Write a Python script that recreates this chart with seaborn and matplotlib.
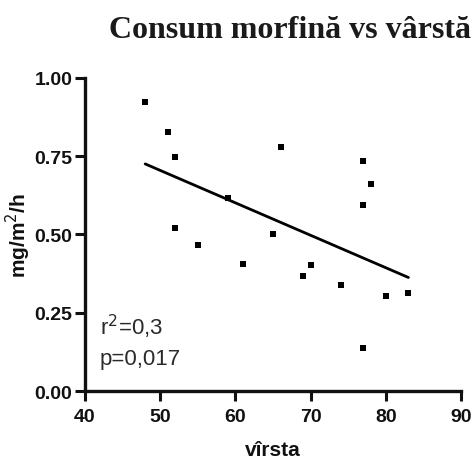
import matplotlib
matplotlib.use("Agg")
import matplotlib.pyplot as plt
import seaborn as sns
import pandas as pd
from matplotlib import font_manager as fm

age = [48, 51, 52, 52, 55, 59, 61, 66, 65, 69, 70, 74, 77, 78, 77, 77, 80, 83]
consum = [0.923, 0.826, 0.748, 0.521, 0.467, 0.618, 0.405, 0.780, 0.500, 0.367,
          0.403, 0.339, 0.735, 0.661, 0.593, 0.136, 0.302, 0.313]
xticks = [40, 50, 60, 70, 80, 90]
yticks = [0.00, 0.25, 0.50, 0.75, 1.00]
title = "Consum morfină vs vârstă"
xlabel = "vîrsta"
ylabel = "mg/m$^2$/h"
annot = ["r$^2$=0,3", "p=0,017"]

sns.set_style("ticks")
names = {f.name for f in fm.fontManager.ttflist}
narrow = "Liberation Sans Narrow" if "Liberation Sans Narrow" in names else "Liberation Sans"
plt.rcParams['font.family'] = [narrow, 'DejaVu Sans']

df = pd.DataFrame({"age": age, "consum": consum})

fig = plt.figure(figsize=(4.73, 4.64), dpi=100)
ax = fig.add_axes([0.1797, 0.155, 0.795, 0.675])

sns.regplot(data=df, x="age", y="consum", ax=ax, ci=None, truncate=True,
            marker="s", color="black",
            scatter_kws={"s": 24, "linewidths": 0, "zorder": 3, "alpha": 1},
            line_kws={"lw": 2.0, "color": "black"})

ax.set_xlim(40, 90)
ax.set_ylim(0, 1)
ax.set_xticks(xticks)
ax.set_yticks(yticks)
ax.set_yticklabels([f"{v:.2f}" for v in yticks])
ax.tick_params(axis="both", direction="out", length=7, width=2.2,
               labelsize=14, colors="#111111")
ax.tick_params(axis="x", pad=5)
ax.tick_params(axis="y", pad=2)
for lab in ax.get_xticklabels() + ax.get_yticklabels():
    lab.set_fontweight("bold")
for s in ["top", "right"]:
    ax.spines[s].set_visible(False)
for s in ["left", "bottom"]:
    ax.spines[s].set_linewidth(2.4)
    ax.spines[s].set_color("#111111")

ax.set_xlabel(xlabel, fontsize=15, fontweight="bold", labelpad=11, color="#111111")
ax.set_ylabel(ylabel, fontsize=15, fontweight="bold", labelpad=1, color="#111111")

ax.text(0.04, 0.182, annot[0], transform=ax.transAxes, fontsize=16,
        color="#2a2a2a", va="baseline")
ax.text(0.04, 0.086, annot[1], transform=ax.transAxes, fontsize=16,
        color="#2a2a2a", va="baseline")

fig.text(0.613, 1 - 38 / 464, title, fontsize=23, fontweight="bold",
         family="Liberation Serif", ha="center", va="baseline", color="#1a1a1a")

fig.savefig("out.png", dpi=100)
